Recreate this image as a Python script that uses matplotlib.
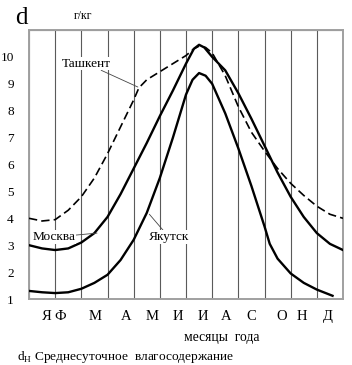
import matplotlib.pyplot as plt
import numpy as np

plt.rcParams['font.family'] = ['Liberation Serif', 'DejaVu Serif']
plt.rcParams['mathtext.fontset'] = 'custom'
plt.rcParams['mathtext.rm'] = 'Liberation Serif'

# month labels and where they sit along the axis
months = ['Я', 'Ф', 'М', 'А', 'М', 'И', 'И', 'А', 'С', 'О', 'Н', 'Д']
month_pos = [0.67, 1.21, 2.52, 3.70, 4.72, 5.69, 6.65, 7.54, 8.50, 9.64, 10.41, 11.42]

# Ташкент (dashed)
tash_x = [0, 0.5, 1, 1.5, 2, 2.5, 3, 3.5, 4, 4.2, 4.5, 5, 5.5, 6, 6.3, 6.5, 6.75,
          7, 7.5, 8, 8.5, 9, 9.5, 10, 10.5, 11, 11.5, 12]
tash_y = [4.0, 3.9, 3.95, 4.3, 4.8, 5.5, 6.4, 7.4, 8.4, 8.85, 9.15, 9.45, 9.75,
          10.05, 10.3, 10.4, 10.35, 10.15, 9.3, 8.15, 7.2, 6.5, 5.85, 5.3, 4.85,
          4.45, 4.15, 4.0]

# Москва
msk_x = [0, 0.5, 1, 1.5, 2, 2.5, 3, 3.5, 4, 4.5, 5, 5.5, 6, 6.3, 6.5, 6.7, 7,
         7.5, 8, 8.5, 9, 9.5, 10, 10.5, 11, 11.5, 12]
msk_y = [3.0, 2.88, 2.82, 2.88, 3.1, 3.45, 4.05, 4.9, 5.85, 6.8, 7.8, 8.75,
         9.75, 10.3, 10.45, 10.35, 10.0, 9.5, 8.65, 7.7, 6.7, 5.7, 4.8, 4.05,
         3.45, 3.05, 2.82]

# Якутск
yak_x = [0, 0.5, 1, 1.5, 2, 2.5, 3, 3.5, 4, 4.5, 5, 5.5, 6, 6.25, 6.5, 6.75, 7,
         7.5, 8, 8.5, 9, 9.2, 9.5, 10, 10.5, 11, 11.6]
yak_y = [1.3, 1.25, 1.22, 1.25, 1.38, 1.6, 1.9, 2.45, 3.2, 4.2, 5.5, 7.0, 8.6,
         9.15, 9.4, 9.3, 9.0, 7.9, 6.6, 5.2, 3.7, 3.05, 2.5, 1.95, 1.6, 1.35, 1.12]

fig = plt.figure(figsize=(3.52, 3.65), dpi=100)
ax = fig.add_axes([29 / 352, 1 - 299 / 365, 314 / 352, 269 / 365])

ax.set_xlim(0, 12)
ax.set_ylim(1, 11)
ax.set_xticks(np.arange(0, 13), minor=True)
ax.set_yticks(np.arange(1, 12), minor=True)
ax.grid(which='minor', color='#5a5a5a', lw=0.8)
ax.tick_params(which='both', length=0)
ax.set_xticks(month_pos, months, fontsize=10.5)
ax.set_yticks(np.arange(1, 11), [str(v) for v in range(1, 11)], fontsize=9.5)
ax.tick_params(axis='x', pad=8)
ax.tick_params(axis='y', pad=11)
for s in ax.spines.values():
    s.set_color('#a0a0a0')
    s.set_linewidth(1.4)

ax.plot(tash_x, tash_y, color='black', lw=1.2, ls=(0, (5, 2.5)), zorder=3)
ax.plot(msk_x, msk_y, color='black', lw=1.7, zorder=3)
ax.plot(yak_x, yak_y, color='black', lw=1.7, zorder=3)

ax.annotate('Ташкент', xy=(4.16, 8.88), xytext=(2.2, 9.75), fontsize=9.6,
            ha='center', va='center',
            bbox=dict(facecolor='white', edgecolor='none', pad=0.5),
            arrowprops=dict(arrowstyle='-', color='#444444', lw=0.6,
                            shrinkA=0, shrinkB=0))
ax.annotate('Москва', xy=(2.6, 3.45), xytext=(0.95, 3.3), fontsize=9.6,
            ha='center', va='center',
            bbox=dict(facecolor='white', edgecolor='none', pad=0.5),
            arrowprops=dict(arrowstyle='-', color='#444444', lw=0.6,
                            shrinkA=0, shrinkB=0))
ax.annotate('Якутск', xy=(4.6, 4.15), xytext=(5.35, 3.3), fontsize=9.6,
            ha='center', va='center',
            bbox=dict(facecolor='white', edgecolor='none', pad=0.5),
            arrowprops=dict(arrowstyle='-', color='#444444', lw=0.6,
                            shrinkA=0, shrinkB=0))

fig.text(21 / 352, 1 - 18 / 365, 'd', fontsize=18, ha='center', va='center')
fig.text(83 / 352, 1 - 16 / 365, 'г/кг', fontsize=8.5, ha='center', va='center')
fig.text(222 / 352, 1 - 338 / 365, 'месяцы  года', fontsize=9.8, ha='center',
         va='center')
fig.text(17 / 352, 1 - 357 / 365, r'd$_{\mathregular{H}}$ Среднесуточное  влагосодержание',
         fontsize=9.6, ha='left', va='center')

fig.savefig('out.png', dpi=100)
